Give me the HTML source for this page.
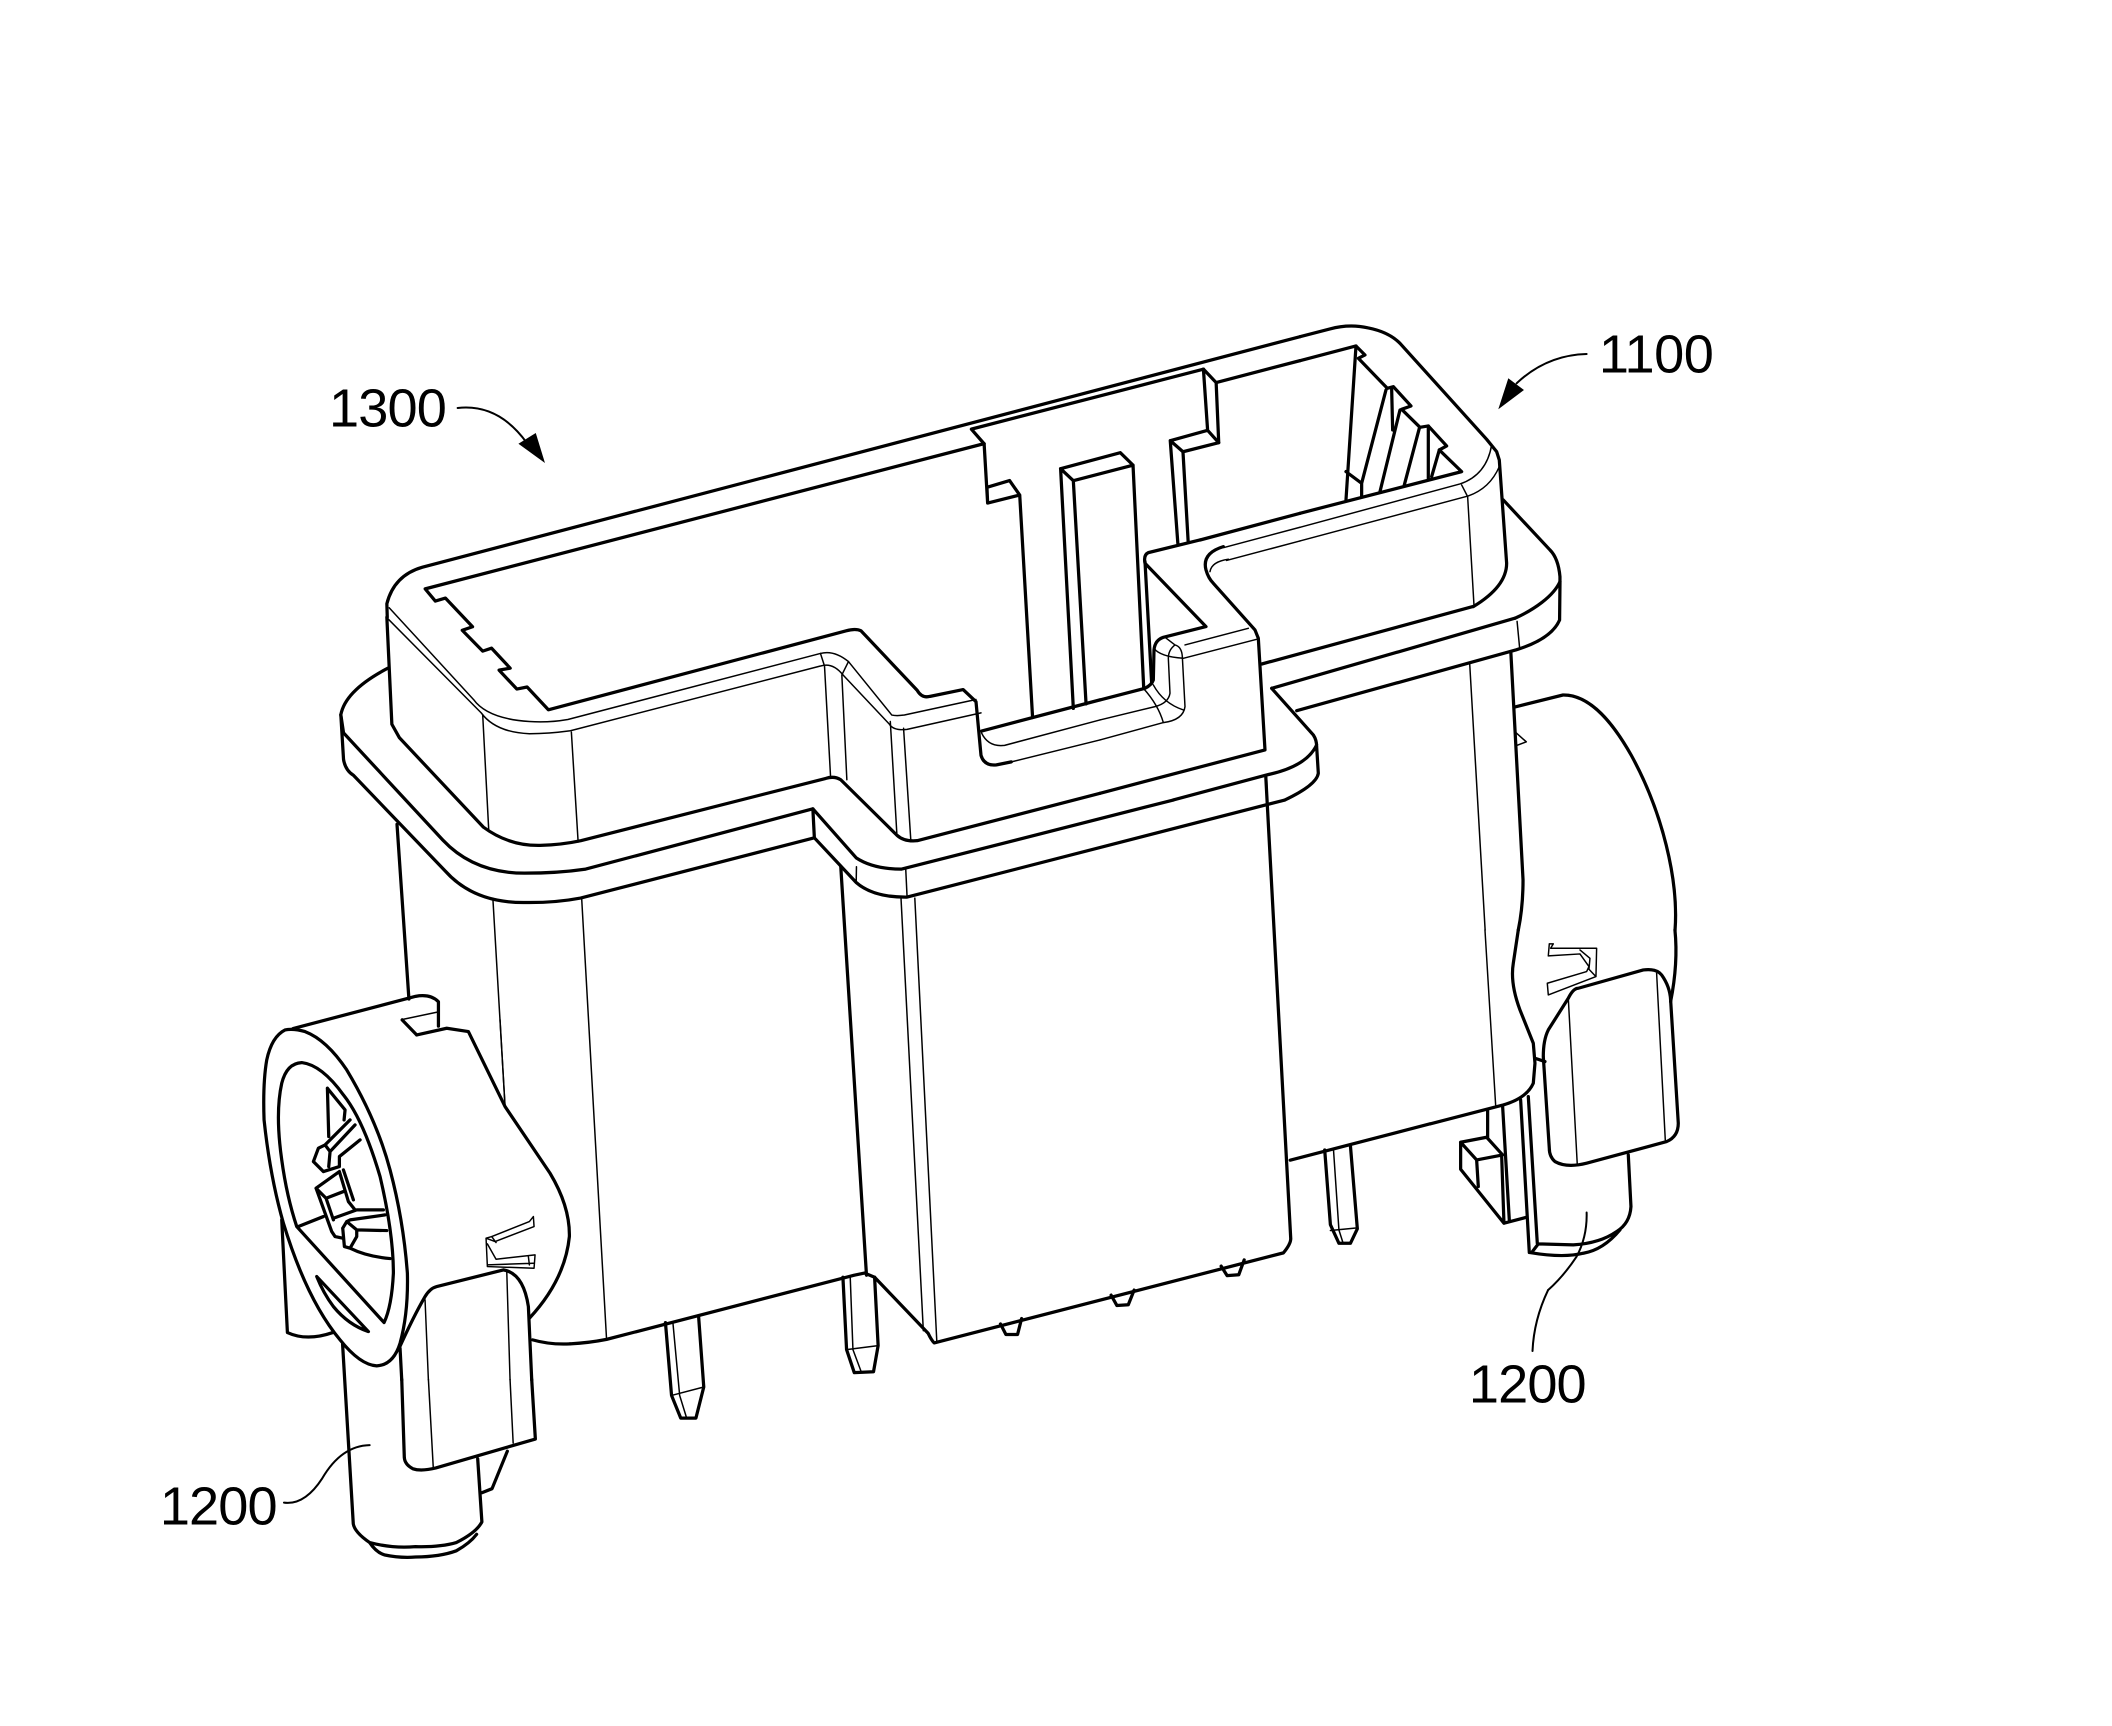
<!DOCTYPE html>
<html><head><meta charset="utf-8"><style>
html,body{margin:0;padding:0;background:#fff}
svg{display:block}
.k{fill:none;stroke:#000;stroke-width:2.4;stroke-linejoin:round;stroke-linecap:round}
.t{fill:none;stroke:#000;stroke-width:1.1;stroke-linejoin:round;stroke-linecap:round}
.z .k{stroke-width:9.7}
.z .t{stroke-width:4.4}
text{font-family:"Liberation Sans",sans-serif;font-size:40px;fill:#000}
</style></head><body>
<svg xmlns="http://www.w3.org/2000/svg" width="2112" height="1726" viewBox="0 0 1560 1275">
<rect width="1560" height="1275" fill="#fff"/>
<!-- upper rim outer -->
<path class="k" d="M286 456 L285.7 446 Q291 425 312 419 L960.3 248.7"/>
<path class="k" d="M1088.2 448 L932 490.5"/>
<path class="k" d="M285.7 456 L289.4 535 L295 545 L357 611 Q376 625 399 624.5 Q415 624 429 621 L610 575 Q616 573 621 576 L662.5 617 Q668 622 677.5 621 L812.5 586"/>
<!-- inner opening, stepped -->
<path class="k" d="M726.6 327.8 L314 435 L321.5 444 L329 441.8 L349 463 L341.4 465.6 L356.5 481 L363 478.8 L376.8 493.6 L368.6 495 L381.7 509 L389.3 507.5 L405 524.3 L625 466 Q632 464 636 466 L677.5 510 Q681 516 687 514.4 L711.4 509.4 L720.9 518.3 L724.6 558 Q727 566 736 565 L747 562.8"/>
<path class="k" d="M725 540 L812.5 517"/>
<path class="k" d="M886.4 398.9 L960.3 379.2"/>
<!-- thin rim fillets -->
<path class="t" d="M287.5 449 L349.7 516.7 Q360 531 391 533 Q405 534 419.4 531.5 L606 482.7 Q616 480 626.7 488.7 L658.7 528.2 Q662 529 668 528.2 L720.9 516.7"/>
<path class="t" d="M285.7 456.3 L355.4 526.6 Q366 541 391 542 Q405 542 421.3 539.8 L606 492 Q615 489 622.7 498.6 L656.8 534.8 Q660 540 670 538.8 L724.6 526.6"/>
<path class="t" d="M356.5 528 L361 614 M422 540.8 L427 622 M609 492 L613.5 574.4 M606 482.7 L609 492 M621.8 498.6 L625.5 576 M626.7 488.7 L621.8 498.6 M657.6 533 L662.5 617 M667.4 538 L672.7 620"/>
<path class="t" d="M725 541.4 Q730 552 742 550.6 L812.5 531.8 M747 562.8 L812.5 546.6"/>
<path class="t" d="M904 404.5 L960.3 389.5 M906 414 L960.3 399.6"/>
<!-- flange -->
<path class="k" d="M286.4 493.6 Q255 510 251.7 528 L253.7 541.4 L327 620.5 Q350 645 387.4 645 Q412 645 432.6 642 L600.4 597.5 L632.4 633.7 Q645 642 666 642 L866.6 591"/>
<path class="k" d="M251.7 528 L253.7 561 Q255 569 261 572.7 L329 643.6 Q350 667 387.4 666.7 Q410 667 428.8 663.4 L601.5 618.9 L632.4 651.9 Q645 663 670 662.7 L949 591"/>
<path class="k" d="M600.4 597.5 L601.5 618.9"/>
<path class="k" d="M939.4 508.5 L1119 456.7"/>
<path class="k" d="M957.8 525 L1120 480 Q1146 472 1152 458 L1152.3 429.6"/>
<path class="t" d="M632.6 640.3 L632.4 651.9 M669 642 L670 662.7 M1120.6 459 L1122.5 478.8"/>
<!-- lower body -->
<path class="k" d="M293.2 609 L302 738"/>
<path class="t" d="M364 663.4 L373 817 M429.6 663.4 L448 989.4"/>
<path class="k" d="M621 640 L640 942"/>
<path class="t" d="M665.5 663.4 L682 983 M675.7 663.4 L692 992"/>
<path class="k" d="M935 574.4 L953.4 915 Q953.4 919 948 925.5 L690 992 Q688 990 685.6 985 L646 943.5"/>
<path class="t" d="M1085.6 490.3 L1097 687"/>
<path class="k" d="M1116 482 L1125 650 Q1125 670 1121.5 687"/>
<path class="k" d="M1056.3 830.2 L953 857"/>
<!-- right cylinder -->
<path class="k" d="M1118.8 522.3 L1154.5 513.4 C1175 513 1192 535 1205 558 C1228 600 1240 650 1237.3 687"/>
<path class="t" d="M1120 541.4 L1127.4 548 L1120.6 550.6"/>
<!-- pin right -->
<path class="k" d="M978.5 849.5 L982.7 904.7 L989 918.4 L997.5 918.4 L1002.6 907.7 L997.5 846.5"/>
<path class="t" d="M985 849.5 L989 908.6 L992 918 M982.7 909 L1002.6 907"/>
<!-- bottom tabs -->
<path class="k" d="M739 978 L743 985.8 L751.6 985.8 L754.6 974 M820.7 956.7 L825 964.4 L833.4 963.8 L837.7 953 M902 935.3 L906.4 942.3 L915 941.7 L919 930.7"/>
<!-- T shape back wall -->
<path class="k" d="M726.9 327.8 L717.5 317 L888.9 272.7 L898.3 282.6 L900.2 327 L873.8 333.7 L877.6 399.6"/>
<path class="k" d="M898.3 282.6 L960.3 266.4"/>
<path class="k" d="M726.9 327.8 L729.5 371.6 L753.2 365.7 L762.7 530 M729 360 L745.7 355 L753.2 365.7 M729 360 L729.5 371.6"/>
<path class="k" d="M888.9 272.7 L892 317.9 L900.2 327 M892 317.9 L864.4 325.5 L873.8 333.7 M864.4 325.5 L870 401.3"/>
<path class="k" d="M783.4 346.2 L827.5 334.4 L836.9 343.6 L792.8 355.1 Z M783.4 346.2 L792.8 523.3 M792.8 355.1 L802.2 520 M836.9 343.6 L844.8 508.4"/>

<!-- left connector lines in page coords -->
<path class="k" d="M216.4 759.8 L306.9 736 Q318 734 323.8 740 L323.8 758 M297 753.4 L307.7 764.5"/>
<path class="t" d="M297.5 753 L323.8 747.5"/>
<path class="k" d="M253 993 L260.9 1125.7 Q262 1132 273 1139.5 Q290 1144 306.9 1142.5 Q325 1143 337 1139.5 Q352 1132 355.9 1124.2 L352.8 1077.6 M273 1139.5 Q278 1147 284.3 1148.7 Q295 1151 306.9 1150.2 Q325 1150 337 1145.6 Q347 1140 352 1133.4"/>
<path class="k" d="M355.9 1102.7 L363.4 1099.7 L374.7 1072"/>
<path class="k" d="M296.7 1019 L298.6 1076.7 Q299 1082 305 1085 Q311 1087 321.9 1084.4 L395.4 1063 L392.7 1019"/>
<path class="t" d="M316.4 1019 L320 1084.4 M376.7 1019 L379 1066"/>
<path class="k" d="M421 992.7 Q435 992 448 989.4 L631 942 L638.5 940.4 L646 943.5"/>
<!-- pins -->
<path class="k" d="M491.5 977 L496 1030.8 L502.8 1047.6 L514 1047.6 L519.8 1024.6 L516 972.6"/>
<path class="t" d="M497 977 L502 1030.8 L507 1047 M496 1030.8 L519.8 1024.6"/>
<path class="k" d="M622.6 943.5 L625.3 997 L631 1014 L645.2 1013.3 L648.6 994 L646 943.5"/>
<path class="t" d="M628 943.5 L630 997 L636 1013 M625.3 997 L648.6 994"/>

<!-- left connector detail -->
<g class="z" transform="scale(.73864) translate(250 1020) scale(.33333)">
<path class="k" d="M105 30 Q65 50 50 120 Q38 190 42 300 Q60 470 100 610 Q170 840 270 960 Q330 1035 380 1038 Q430 1035 450 970 Q475 880 472 760 Q460 600 420 450 Q380 300 290 150 Q230 60 165 35 Q130 25 105 30 Z"/>
<path class="k" d="M155 128 Q110 130 95 190 Q75 280 95 420 Q110 530 140 620 L402 908 Q425 860 430 760 Q430 640 390 470 Q340 300 280 225 Q215 135 155 128 Z"/>
<path class="k" d="M232 205 L236 350 M232 205 L285 270 L282 300"/>
<path class="k" d="M300 300 L225 375 L205 385 L190 425 L220 455 L268 440 L268 410 L330 360 M225 375 L240 395 L236 440 M240 395 L315 315"/>
<path class="k" d="M268 455 L198 505 L245 635 L255 650 L278 655 M198 505 L228 535 L250 600 M228 535 L280 515 M268 455 L295 545 L315 570 M280 450 L310 540 M250 595 L320 570 L400 570 M145 620 L220 590"/>
<path class="k" d="M278 625 L290 605 L300 600 L405 585 M290 605 L320 630 L410 632 M278 625 L283 680 L300 685 L320 650 L320 630 M300 685 Q350 710 420 716"/>
<path class="k" d="M200 770 L355 935 Q295 915 250 860 Q220 820 200 770 Z"/>
<path class="k" d="M95 600 L112 938 Q170 965 248 938"/>
<path class="k" d="M445 990 Q490 890 525 830 Q540 805 560 800 L760 750 Q820 760 835 860 L845 1080 M450 985 L455 1080"/>
<path class="t" d="M525 840 L535 1080 M770 750 L780 1080 M750 0 L765 260"/>
<path class="k" d="M500 45 L590 25 L655 35 L765 260 L900 460 Q960 560 958 650 Q945 780 838 895 M848 960 Q900 975 960 972"/>
<path class="t" d="M850 590 L852 620 L735 665 L708 655 L712 740 L852 745 L855 705 L738 718 L712 672 M838 605 L725 650 L708 655 M850 590 L838 605 M725 650 L738 668 M835 710 L838 735 M712 735 L850 730"/>
</g>

<!-- top right corner detail -->
<g class="z" transform="scale(.73864) translate(1300 320) scale(.33333)">
<path class="k" d="M0 50 L90 27 C130 16 170 16 205 24 C250 33 280 50 300 70 L560 358 L590 395 L598 420 L620 730 Q620 800 520 860"/>
<path class="k" d="M0 122 L168 78 L195 105 L175 115 L262 205 L280 200 L333 258 L305 268 L360 322 L385 318 L440 378 L418 390 L485 455 L0 580"/>
<path class="k" d="M168 78 L138 540 M138 455 L185 490 L185 530 M185 490 L258 210 M275 205 L278 330 M300 270 L240 515 M358 325 L313 495 M385 318 L385 475 M418 390 L395 470"/>
<path class="t" d="M575 375 Q560 465 480 492 L0 622 M598 440 Q570 505 505 528 L0 663 M485 495 L503 530 L522 855"/>
<path class="k" d="M610 540 L750 690 Q775 715 780 770 L780 785 C760 830 700 870 645 895"/>
<path class="k" style="stroke-width:6" d="M860 102 Q740 105 650 190"/>
<polygon points="595,268 625,175 672,210" fill="#000"/>
</g>

<!-- tab detail -->
<g class="z" transform="scale(.73864) translate(1100 540) scale(.33333)">
<path class="k" d="M300 0 L145 38 Q130 45 135 70 L318 260 L190 292 Q165 300 162 330 L160 420 Q155 435 135 445 L0 480"/>
<path class="k" d="M135 65 L155 430"/>
<path class="k" d="M318 90 Q305 40 370 20 M318 90 Q325 115 340 130 L465 270 L475 295 L495 630 L0 760"/>
<path class="t" d="M255 315 L445 265 M162 325 Q180 350 250 355 L470 298 M205 355 Q205 330 225 315 Q245 320 247 350 L255 500 Q250 540 190 548 L0 600 M205 355 L210 460 Q205 490 165 500 L0 540 M130 445 Q175 495 190 548 M160 435 Q190 490 250 510 M330 95 Q335 65 385 58 M195 292 L225 315"/>
<path class="k" d="M515 445 L640 585 Q650 600 650 620 L655 700 Q650 735 555 780 M650 615 Q620 680 500 705 L220 780"/>
<path class="t" d="M500 705 L502 780"/>
</g>

<!-- right cap detail -->
<g class="z" transform="scale(.73864) translate(1430 930) scale(.33333)">
<path class="k" d="M0 582 L220 525 Q290 505 310 460 L315 400 L310 340 L270 240 Q240 160 250 100 L265 0 M315 385 L345 395"/>
<path class="k" d="M415 205 Q430 175 445 175 L640 120 Q680 115 695 135 Q720 170 722 210 L745 580 Q745 620 710 635 L470 700 Q410 715 375 695 Q358 680 358 655 L340 380 Q340 330 355 300 Z"/>
<path class="t" d="M415 205 L442 705 M680 130 L706 630 M165 0 L197 525"/>
<path class="k" d="M735 0 Q745 100 722 215"/>
<path class="t" d="M358 42 L355 78 L450 72 L477 110 L470 125 L352 160 L355 195 L498 140 L500 55 L362 55 M358 42 L370 42 L362 55 M450 60 L480 85 L477 118 L498 140"/>
<path class="k" d="M595 675 L603 830 Q600 880 560 905 Q510 940 430 945 L325 942 M300 968 Q400 985 460 970 Q520 960 570 900 M325 942 L305 968 M272 510 L298 968 M295 500 L322 940"/>
<path class="k" d="M92 637 L170 622 L218 675 L140 690 Z M92 637 L92 718 L222 880 L290 862 M140 690 L145 770 M215 675 L222 880 M218 530 L238 870 M173 540 L173 625"/>
<path class="k" style="stroke-width:6" d="M470 848 Q472 920 440 980 Q400 1040 355 1080"/>
</g>

<!-- leaders -->
<path class="k" style="stroke-width:1.5" d="M338 301.4 Q368 298 389 327"/>
<polygon points="402.5,342 382.9,327.8 395.7,319.9" fill="#000"/>
<path class="k" style="stroke-width:1.5" d="M209.7 1110 Q225 1112 238 1092 Q252 1068 273 1067.5"/>
<path class="k" style="stroke-width:1.5" d="M1143.5 953 Q1133 975 1132 998"/>
<text x="243" y="315" textLength="87">1300</text>
<text x="1181" y="275" textLength="85">1100</text>
<text x="118" y="1126" textLength="87">1200</text>
<text x="1085" y="1036" textLength="87">1200</text>
</svg>
</body></html>
